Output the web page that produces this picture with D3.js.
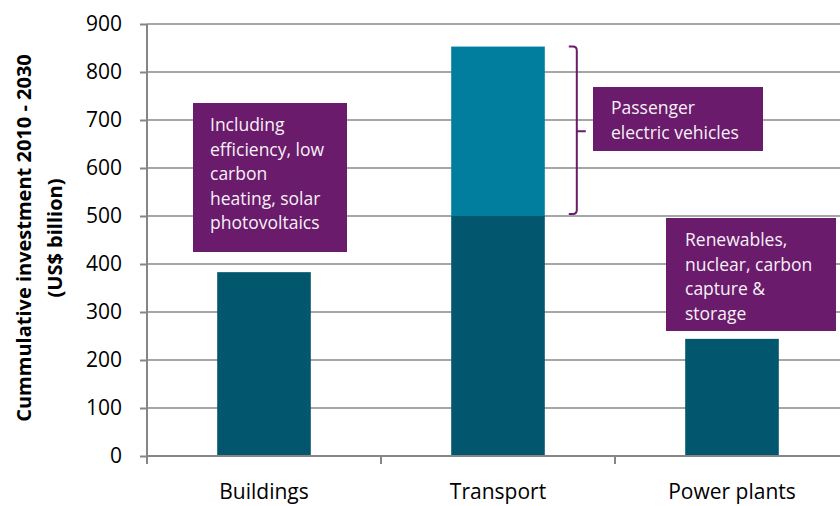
<!DOCTYPE html>
<html>
<head>
<meta charset="utf-8">
<script src="https://cdn.jsdelivr.net/npm/d3@7"></script>
<style>
  body { margin: 0; background: #fff; }
  svg text { font-family: "Open Sans", sans-serif; }
</style>
</head>
<body>
<div id="chart"></div>
<script>
var categories = ["Buildings", "Transport", "Power plants"];
var coreValues = [383, 500, 244];
var evValues = [0, 353, 0];
var yTicks = [0, 100, 200, 300, 400, 500, 600, 700, 800, 900];

var noteBuildings = ["Including", "efficiency, low", "carbon", "heating, solar", "photovoltaics"];
var noteTransport = ["Passenger", "electric vehicles"];
var notePower = ["Renewables,", "nuclear, carbon", "capture &", "storage"];

var svgWidth = 840;
var svgHeight = 506;
var margin = { top: 24, right: 0, bottom: 50, left: 147 };
var height = svgHeight - margin.top - margin.bottom;

var svg = d3.select("#chart")
  .append("svg")
  .attr("width", svgWidth)
  .attr("height", svgHeight);

var chart = svg.append("g")
  .attr("transform", "translate(" + margin.left + "," + margin.top + ")");

var rows = categories.map(function(c, i) {
  return { cat: c, core: coreValues[i], ev: evValues[i] };
});

var stack = d3.stack().keys(["core", "ev"]);
var series = stack(rows);

var x = d3.scaleBand().domain(categories).range([0, 702]).paddingInner(0.6).paddingOuter(0.3);
var xTickScale = d3.scaleLinear().domain([0, 3]).range([0, 702]);
var y = d3.scaleLinear().domain([0, 900]).range([height, 0]);

// gridlines
chart.append("g")
  .selectAll("line")
  .data(yTicks.slice(1))
  .enter()
  .append("line")
  .attr("x1", 0)
  .attr("x2", 702)
  .attr("y1", function(d) { return y(d); })
  .attr("y2", function(d) { return y(d); })
  .attr("stroke", "#a6a6a6")
  .attr("stroke-width", 2);

var colors = { core: "#02566d", ev: "#017e9d" };

chart.selectAll("g.layer")
  .data(series)
  .enter()
  .append("g")
  .attr("class", "layer")
  .attr("fill", function(d) { return colors[d.key]; })
  .selectAll("rect")
  .data(function(d) { return d; })
  .enter()
  .append("rect")
  .attr("x", function(d) { return x(d.data.cat); })
  .attr("width", x.bandwidth())
  .attr("y", function(d) { return y(d[1]); })
  .attr("height", function(d) { return y(d[0]) - y(d[1]); });

// y axis
var leftAxis = d3.axisLeft(y).tickValues(yTicks).tickSize(7).tickPadding(18);
var yAxisG = chart.append("g").attr("class", "y-axis").call(leftAxis);
yAxisG.select(".domain").attr("stroke", "#868686").attr("stroke-width", 2)
  .attr("d", "M0," + y(900) + "V" + (height + 8));
yAxisG.selectAll(".tick line").attr("stroke", "#868686").attr("stroke-width", 2);
yAxisG.selectAll(".tick text")
  .attr("fill", "#000")
  .style("font-size", "21px")
  .style("font-family", "'Open Sans', sans-serif");

// x axis
chart.append("line")
  .attr("x1", 0).attr("x2", 702)
  .attr("y1", height).attr("y2", height)
  .attr("stroke", "#868686").attr("stroke-width", 2);

chart.append("g")
  .selectAll("line")
  .data([1, 2, 3])
  .enter()
  .append("line")
  .attr("x1", function(d) { return xTickScale(d); })
  .attr("x2", function(d) { return xTickScale(d); })
  .attr("y1", height)
  .attr("y2", height + 8)
  .attr("stroke", "#868686").attr("stroke-width", 2);

chart.append("g")
  .selectAll("text")
  .data(categories)
  .enter()
  .append("text")
  .attr("x", function(d) { return x(d) + x.bandwidth() / 2; })
  .attr("y", height + 43)
  .attr("text-anchor", "middle")
  .style("font-size", "21px")
  .text(function(d) { return d; });

// y axis title
var title = svg.append("text")
  .attr("transform", "translate(0," + 238 + ") rotate(-90)")
  .attr("text-anchor", "middle")
  .style("font-size", "20px")
  .style("font-weight", "bold");
title.append("tspan").attr("x", 0).attr("y", 31).text("Cummulative investment 2010 - 2030");
title.append("tspan").attr("x", 0).attr("y", 62).text("(US$ billion)");

// annotation boxes
function drawNote(lines, bx, by, bw, bh, tx, ty) {
  var g = svg.append("g");
  g.append("rect")
    .attr("x", bx).attr("y", by)
    .attr("width", bw).attr("height", bh)
    .attr("fill", "#6a1b6c");
  g.selectAll("text")
    .data(lines)
    .enter()
    .append("text")
    .attr("x", tx)
    .attr("y", function(d, i) { return ty + i * 24.5; })
    .attr("dy", "0.35em")
    .attr("fill", "#f7f0f7")
    .style("font-size", "17.5px")
    .text(function(d) { return d; });
}

drawNote(noteBuildings, 193, 103, 154, 149, 210, 125);
drawNote(noteTransport, 593, 87, 170, 64, 611, 108);
drawNote(notePower, 666, 218, 170, 113, 685, 240);

// bracket for the EV part of transport
var bx = margin.left + x("Transport") + x.bandwidth() + 24;
var bTop = margin.top + y(853);
var bBot = margin.top + y(500) - 2;
var bMid = margin.top + y((853 + 500) / 2);
var r = 4;
svg.append("path")
  .attr("d",
    "M" + bx + "," + bTop +
    "H" + (bx + 8 - r) +
    "Q" + (bx + 8) + "," + bTop + " " + (bx + 8) + "," + (bTop + r) +
    "V" + (bBot - r) +
    "Q" + (bx + 8) + "," + bBot + " " + (bx + 8 - r) + "," + bBot +
    "H" + bx +
    "M" + (bx + 8) + "," + bMid + "H" + (bx + 17))
  .attr("fill", "none")
  .attr("stroke", "#6a1b6c")
  .attr("stroke-width", 2);
</script>
</body>
</html>
